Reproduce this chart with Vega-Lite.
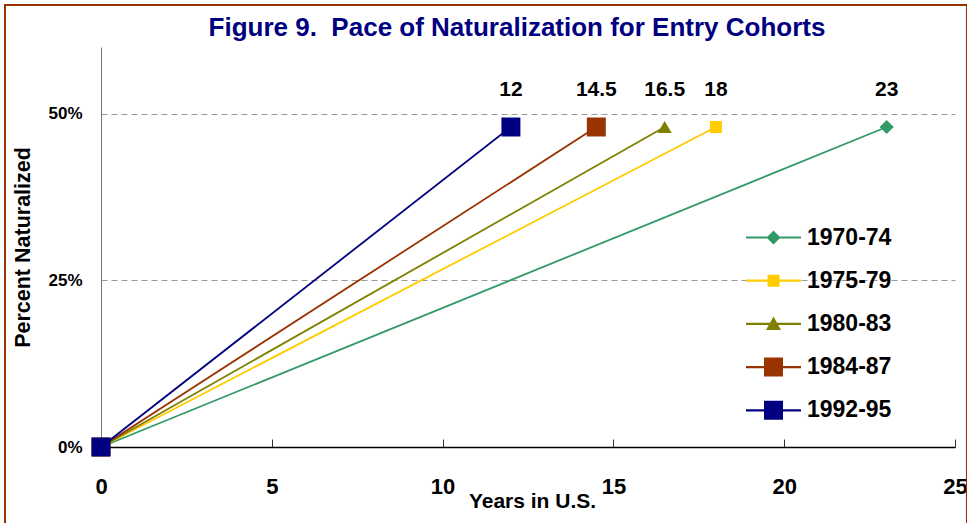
{
  "$schema": "https://vega.github.io/schema/vega-lite/v6.json",
  "autosize": "none",
  "width": 854,
  "height": 400,
  "padding": {"left": 101, "top": 47, "right": 12, "bottom": 76},
  "background": "white",
  "config": {
    "font": "Liberation Sans",
    "view": {"stroke": null},
    "axis": {"labelFont": "Liberation Sans", "titleFont": "Liberation Sans", "labelFontWeight": "bold", "titleFontWeight": "bold", "labelColor": "black", "titleColor": "black"},
    "legend": {
      "orient": "none", "legendX": 661, "legendY": 179, "padding": 0,
      "symbolSize": 400, "symbolOpacity": 1, "symbolStrokeWidth": 0,
      "labelFontSize": 23, "labelFontWeight": "bold", "labelColor": "black", "labelFont": "Liberation Sans",
      "labelOffset": 22, "rowPadding": 19.2
    }
  },
  "title": {
    "text": "Figure 9.\u00a0 Pace of Naturalization for Entry Cohorts",
    "font": "Liberation Sans",
    "fontSize": 26,
    "fontWeight": "bold",
    "color": "#000080",
    "anchor": "middle",
    "dx": -11,
    "dy": 46,
    "offset": 9
  },
  "data": {
    "values": [
      {"cohort": "1970-74", "years": 0, "pct": 0},
      {"cohort": "1970-74", "years": 23, "pct": 0.48},
      {"cohort": "1975-79", "years": 0, "pct": 0},
      {"cohort": "1975-79", "years": 18, "pct": 0.48},
      {"cohort": "1980-83", "years": 0, "pct": 0},
      {"cohort": "1980-83", "years": 16.5, "pct": 0.48},
      {"cohort": "1984-87", "years": 0, "pct": 0},
      {"cohort": "1984-87", "years": 14.5, "pct": 0.48},
      {"cohort": "1992-95", "years": 0, "pct": 0},
      {"cohort": "1992-95", "years": 12, "pct": 0.48}
    ]
  },
  "layer": [
    {
      "data": {"values": [{}]},
      "mark": {"type": "rect", "fill": null, "stroke": "#993300", "strokeWidth": 2, "clip": false},
      "encoding": {
        "x": {"datum": -2.81, "type": "quantitative", "scale": {"domain": [0, 25]}},
        "x2": {"datum": 25.35},
        "y": {"datum": 0.663, "type": "quantitative", "scale": {"domain": [0, 0.6]}},
        "y2": {"datum": -0.2}
      }
    },
    {
      "mark": {"type": "line", "strokeWidth": 1.8},
      "encoding": {
        "x": {"field": "years", "type": "quantitative", "scale": {"domain": [0, 25], "nice": false},
          "axis": {"values": [0, 5, 10, 15, 20, 25], "grid": false, "tickSize": -8, "tickColor": "#333", "domainColor": "black", "domainWidth": 1.5,
            "labelFontSize": 22, "labelPadding": 37, "labelFlush": false, "title": "Years in U.S.", "titleFontSize": 21, "titleBaseline": "middle", "titleY": 54, "titleX": 431}},
        "y": {"field": "pct", "type": "quantitative", "scale": {"domain": [0, 0.6], "nice": false},
          "axis": {"values": [0, 0.25, 0.5], "format": ".0%", "grid": true, "gridDash": [6, 4], "gridColor": "#999", "gridWidth": 1,
            "domainColor": "#777", "ticks": false, "labelFontSize": 17, "labelPadding": 19,
            "title": "Percent Naturalized", "titleFontSize": 21.5, "titlePadding": 13}},
        "color": {"field": "cohort", "type": "nominal", "legend": {"title": null},
          "scale": {"domain": ["1970-74", "1975-79", "1980-83", "1984-87", "1992-95"], "range": ["#339966", "#FFCC00", "#808000", "#993300", "#000080"]}}
      }
    },
    {
      "mark": {"type": "point", "filled": true, "opacity": 0, "size": 400},
      "encoding": {
        "x": {"field": "years", "type": "quantitative"},
        "y": {"field": "pct", "type": "quantitative"},
        "color": {"field": "cohort", "type": "nominal", "legend": {"title": null}},
        "shape": {"field": "cohort", "type": "nominal", "legend": {"title": null},
          "scale": {"domain": ["1970-74", "1975-79", "1980-83", "1984-87", "1992-95"],
            "range": [
              "M-2.75,-0.11H2.75V0.11H-2.75Z M0,-0.7L0.7,0L0,0.7L-0.7,0Z",
              "M-2.75,-0.11H2.75V0.11H-2.75Z M-0.6,-0.6H0.6V0.6H-0.6Z",
              "M-2.75,-0.11H2.75V0.11H-2.75Z M0,-0.75L0.75,0.6H-0.75Z",
              "M-2.75,-0.11H2.75V0.11H-2.75Z M-0.95,-0.95H0.95V0.95H-0.95Z",
              "M-2.75,-0.11H2.75V0.11H-2.75Z M-0.95,-0.95H0.95V0.95H-0.95Z"
            ]}}
      }
    },
    {
      "transform": [{"filter": "datum.cohort === '1970-74'"}],
      "mark": {"type": "point", "filled": true, "opacity": 1, "shape": "diamond", "size": 200, "color": "#339966"},
      "encoding": {
        "x": {"field": "years", "type": "quantitative"},
        "y": {"field": "pct", "type": "quantitative"}
      }
    },
    {
      "transform": [{"filter": "datum.cohort === '1975-79'"}],
      "mark": {"type": "point", "filled": true, "opacity": 1, "shape": "square", "size": 144, "color": "#FFCC00"},
      "encoding": {
        "x": {"field": "years", "type": "quantitative"},
        "y": {"field": "pct", "type": "quantitative"}
      }
    },
    {
      "transform": [{"filter": "datum.cohort === '1980-83'"}],
      "mark": {"type": "point", "filled": true, "opacity": 1, "shape": "triangle-up", "size": 200, "color": "#808000"},
      "encoding": {
        "x": {"field": "years", "type": "quantitative"},
        "y": {"field": "pct", "type": "quantitative"}
      }
    },
    {
      "transform": [{"filter": "datum.cohort === '1984-87'"}],
      "mark": {"type": "point", "filled": true, "opacity": 1, "shape": "square", "size": 360, "color": "#993300"},
      "encoding": {
        "x": {"field": "years", "type": "quantitative"},
        "y": {"field": "pct", "type": "quantitative"}
      }
    },
    {
      "transform": [{"filter": "datum.cohort === '1992-95'"}],
      "mark": {"type": "point", "filled": true, "opacity": 1, "shape": "square", "size": 360, "color": "#000080"},
      "encoding": {
        "x": {"field": "years", "type": "quantitative"},
        "y": {"field": "pct", "type": "quantitative"}
      }
    },
    {
      "transform": [{"filter": "datum.years > 0"}],
      "mark": {"type": "text", "fontSize": 21, "fontWeight": "bold", "color": "black", "dy": -37, "font": "Liberation Sans"},
      "encoding": {
        "x": {"field": "years", "type": "quantitative"},
        "y": {"field": "pct", "type": "quantitative"},
        "text": {"field": "years", "type": "quantitative", "format": ""}
      }
    }
  ]
}
